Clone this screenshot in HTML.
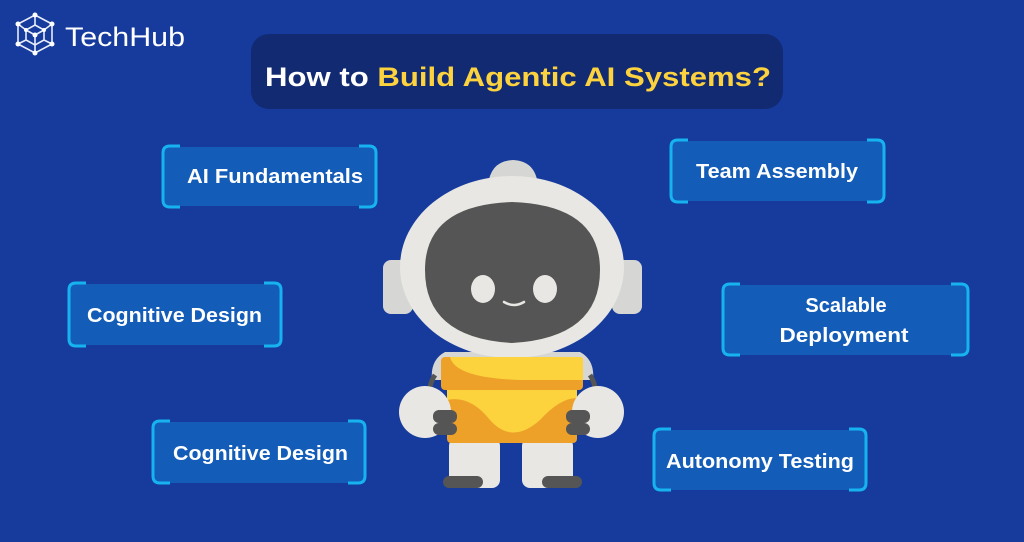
<!DOCTYPE html>
<html><head><meta charset="utf-8"><style>
html,body{margin:0;padding:0;background:#163b9c;}
svg{display:block}
text{font-family:"Liberation Sans",sans-serif;font-weight:bold;fill:#fff}
</style></head><body>
<svg width="1024" height="542" viewBox="0 0 1024 542" xmlns="http://www.w3.org/2000/svg">
<rect width="1024" height="542" fill="#163b9c"/>
<!-- logo -->
<g stroke="#e8ecf6" stroke-width="1.6" fill="none">
<polygon points="35,15 52,24 52,44 35,53 18,44 18,24"/>
<polygon points="35,25 44,30 44,40 35,45 26,40 26,30"/>
<line x1="35" y1="15" x2="35" y2="25"/><line x1="52" y1="24" x2="44" y2="30"/><line x1="52" y1="44" x2="44" y2="40"/>
<line x1="35" y1="53" x2="35" y2="45"/><line x1="18" y1="44" x2="26" y2="40"/><line x1="18" y1="24" x2="26" y2="30"/>
<line x1="35" y1="35" x2="35" y2="45"/><line x1="35" y1="35" x2="26" y2="30"/><line x1="35" y1="35" x2="44" y2="30"/>
</g>
<g fill="#fff"><circle cx="35" cy="15" r="2.5"/><circle cx="52" cy="24" r="2.5"/><circle cx="52" cy="44" r="2.5"/><circle cx="35" cy="53" r="2.5"/><circle cx="18" cy="44" r="2.5"/><circle cx="18" cy="24" r="2.5"/><circle cx="35" cy="35" r="2.5"/><circle cx="44" cy="30" r="2"/><circle cx="26" cy="30" r="2"/></g>
<text x="65" y="46" font-size="27" style="font-weight:normal" textLength="120" lengthAdjust="spacingAndGlyphs">TechHub</text>
<!-- title -->
<rect x="251" y="34" width="532" height="75" rx="18" fill="#112a71"/>
<text x="265" y="86" font-size="27" textLength="506" lengthAdjust="spacingAndGlyphs">How to <tspan fill="#fdd23f" style="fill:#fdd23f">Build Agentic AI Systems?</tspan></text>

<!-- boxes -->
<g id="boxes">
<!-- AI Fundamentals 162-377, 145-208 -->
<rect x="164" y="147" width="211" height="59" fill="#135cb7"/>
<path d="M180 146 H170 Q163 146 163 153 V200 Q163 207 170 207 H180 M359 146 H369 Q376 146 376 153 V200 Q376 207 369 207 H359" stroke="#17b3f1" stroke-width="3" fill="none"/>
<text x="187" y="183" font-size="20" textLength="176" lengthAdjust="spacingAndGlyphs">AI Fundamentals</text>
<!-- Team Assembly 670-885,139-203 -->
<rect x="672" y="141" width="211" height="60" fill="#135cb7"/>
<path d="M688 140 H678 Q671 140 671 147 V195 Q671 202 678 202 H688 M867 140 H877 Q884 140 884 147 V195 Q884 202 877 202 H867" stroke="#17b3f1" stroke-width="3" fill="none"/>
<text x="696" y="178" font-size="20" textLength="162" lengthAdjust="spacingAndGlyphs">Team Assembly</text>
<!-- Cognitive 68-282, 282-347 -->
<rect x="70" y="284" width="210" height="61" fill="#135cb7"/>
<path d="M86 283 H76 Q69 283 69 290 V339 Q69 346 76 346 H86 M264 283 H274 Q281 283 281 290 V339 Q281 346 274 346 H264" stroke="#17b3f1" stroke-width="3" fill="none"/>
<text x="87" y="322" font-size="20" textLength="175" lengthAdjust="spacingAndGlyphs">Cognitive Design</text>
<!-- Scalable 722-969, 283-356 -->
<rect x="724" y="285" width="243" height="70" fill="#135cb7"/>
<path d="M740 284 H730 Q723 284 723 291 V348 Q723 355 730 355 H740 M951 284 H961 Q968 284 968 291 V348 Q968 355 961 355 H951" stroke="#17b3f1" stroke-width="3" fill="none"/>
<text x="846" y="312" font-size="20" text-anchor="middle">Scalable</text>
<text x="844" y="342" font-size="20" text-anchor="middle" textLength="129" lengthAdjust="spacingAndGlyphs">Deployment</text>
<!-- Cognitive2 152-366, 420-484 -->
<rect x="154" y="422" width="210" height="61" fill="#135cb7"/>
<path d="M170 421 H160 Q153 421 153 428 V476 Q153 483 160 483 H170 M348 421 H358 Q365 421 365 428 V476 Q365 483 358 483 H348" stroke="#17b3f1" stroke-width="3" fill="none"/>
<text x="173" y="460" font-size="20" textLength="175" lengthAdjust="spacingAndGlyphs">Cognitive Design</text>
<!-- Autonomy 653-867, 428-491 -->
<rect x="655" y="430" width="210" height="60" fill="#135cb7"/>
<path d="M671 429 H661 Q654 429 654 436 V483 Q654 490 661 490 H671 M849 429 H859 Q866 429 866 436 V483 Q866 490 859 490 H849" stroke="#17b3f1" stroke-width="3" fill="none"/>
<text x="666" y="468" font-size="20" textLength="188" lengthAdjust="spacingAndGlyphs">Autonomy Testing</text>
</g>

<!-- robot -->
<g>
<path d="M488 186 Q490 161 513 160 Q536 161 538 186 Z" fill="#d6d6d4"/>
<rect x="383" y="260" width="30" height="54" rx="8" fill="#d6d6d4"/>
<rect x="612" y="260" width="30" height="54" rx="8" fill="#d6d6d4"/>
<path d="M432 380 Q430 360 445 352 L580 352 Q595 360 593 380 Z" fill="#d6d6d4"/>
<path d="M435 375 Q428 385 430 400" stroke="#555" stroke-width="5" fill="none"/>
<path d="M590 375 Q597 385 595 400" stroke="#555" stroke-width="5" fill="none"/>
<ellipse cx="512" cy="267" rx="112" ry="91" fill="#e8e7e3"/>
<path d="M425 270 Q425 205 512 202 Q600 205 600 270 Q600 338 512 343 Q425 338 425 270 Z" fill="#555555"/>
<ellipse cx="483" cy="289" rx="12" ry="14" fill="#e8e7e3"/>
<ellipse cx="545" cy="289" rx="12" ry="14" fill="#e8e7e3"/>
<path d="M504 302 Q514 308 524 302" stroke="#e8e7e3" stroke-width="2.5" fill="none" stroke-linecap="round"/>
<!-- legs -->
<rect x="449" y="438" width="51" height="50" rx="8" fill="#e8e7e3"/>
<rect x="522" y="438" width="51" height="50" rx="8" fill="#e8e7e3"/>
<rect x="443" y="476" width="40" height="12" rx="6" fill="#555"/>
<rect x="542" y="476" width="40" height="12" rx="6" fill="#555"/>
<!-- body -->
<rect x="447" y="385" width="130" height="58" rx="4" fill="#eda129"/>
<path d="M447 400 Q470 395 490 420 Q512 445 540 420 Q560 398 577 398 L577 385 L447 385 Z" fill="#fcd23d"/>
<rect x="441" y="357" width="142" height="33" rx="4" fill="#eda129"/>
<path d="M450 357 Q455 378 520 380 L583 380 L583 360 Q583 357 580 357 Z" fill="#fcd23d"/>
<!-- hands -->
<circle cx="425" cy="412" r="26" fill="#e8e7e3"/>
<circle cx="598" cy="412" r="26" fill="#e8e7e3"/>
<rect x="433" y="410" width="24" height="13" rx="6" fill="#555"/>
<rect x="433" y="423" width="24" height="12" rx="6" fill="#555"/>
<rect x="566" y="410" width="24" height="13" rx="6" fill="#555"/>
<rect x="566" y="423" width="24" height="12" rx="6" fill="#555"/>
</g>
</svg>
</body></html>
